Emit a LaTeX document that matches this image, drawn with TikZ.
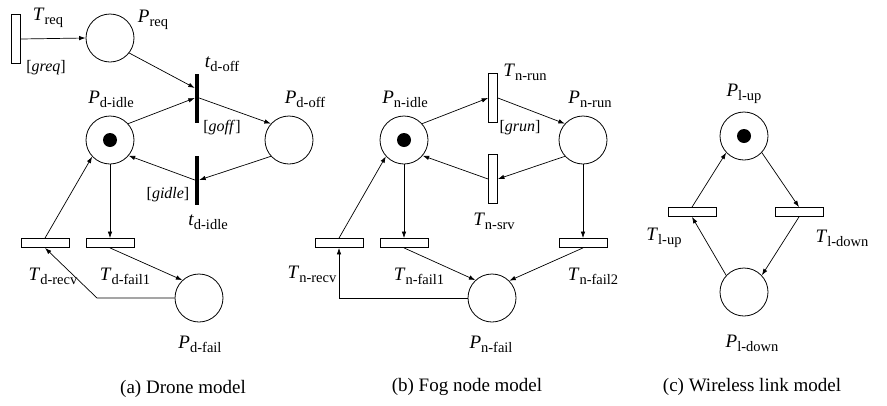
\documentclass[tikz,border=0pt]{standalone}
\usepackage{fontspec}
\setmainfont{Liberation Serif}
\usetikzlibrary{arrows.meta,calc}
\newcommand\lb[2]{{\fontsize{19}{20}\selectfont\textit{#1}}\raisebox{-4pt}{\fontsize{14.5}{15}\selectfont #2}}
\newcommand\gd[1]{{\fontsize{16}{17}\selectfont[\textit{#1}]}}
\tikzset{
  place/.style={circle,draw,line width=0.8pt,minimum size=48pt,inner sep=0pt},
  token/.style={circle,fill=black,minimum size=14pt,inner sep=0pt},
  transv/.style={rectangle,draw,line width=0.8pt,minimum width=9pt,minimum height=49pt,inner sep=0pt},
  transh/.style={rectangle,draw,line width=0.8pt,minimum width=48pt,minimum height=9pt,inner sep=0pt},
  tbar/.style={rectangle,fill=black,minimum width=4pt,minimum height=49pt,inner sep=0pt},
  lbl/.style={inner sep=0pt},
  arc/.style={line width=0.7pt,-{Latex[length=6.5pt,width=4.5pt]}},
  captxt/.style={inner sep=0pt,font=\fontsize{19}{20}\selectfont}
}
\begin{document}
\begin{tikzpicture}[x=1pt,y=-1pt]
\useasboundingbox (0,0) rectangle (887,405);
% ---------- (a) Drone model ----------
\node[transv] (Treq) at (16,39) {};
\node[place] (Preq) at (110,38) {};
\node[tbar] (toff) at (197,98) {};
\node[place] (Pdidle) at (110,140) {};
\node[token] (k1) at (110,140) {};
\node[place] (Pdoff) at (289,140) {};
\node[tbar] (tidle) at (197,180) {};
\node[transh] (Tdrecv) at (45,243) {};
\node[transh] (Tdfail) at (110,243) {};
\node[place] (Pdfail) at (199,298) {};
\coordinate (cdr) at (97,298);

\node[lbl] (lTreq) at (48,18) {\lb{T}{req}};
\node[lbl] (lgreq) at (46,68) {\gd{greq}};
\node[lbl] (lPreq) at (153,20) {\lb{P}{req}};
\node[lbl] (ltoff) at (222,64) {\lb{t}{d-off}};
\node[lbl] (lPdidle) at (111,99) {\lb{P}{d-idle}};
\node[lbl] (lPdoff) at (305,99) {\lb{P}{d-off}};
\node[lbl] (lgoff) at (222,128) {\gd{goff}};
\node[lbl] (lgidle) at (168,195) {\gd{gidle}};
\node[lbl] (ltidle) at (208,222) {\lb{t}{d-idle}};
\node[lbl] (lTdrecv) at (53,276) {\lb{T}{d-recv}};
\node[lbl] (lTdfail) at (125,276) {\lb{T}{d-fail1}};
\node[lbl] (lPdfail) at (200,344) {\lb{P}{d-fail}};
\node[captxt] (capa) at (183,389) {(a) Drone model};

\draw[arc] (Treq.east) -- (Preq.west);
\draw[arc] (Preq.-38) -- ([yshift=10pt]toff.west);
\draw[arc] (Pdidle.42) -- (toff.west);
\draw[arc] (toff.east) -- (Pdoff.138);
\draw[arc] (Pdoff.222) -- (tidle.east);
\draw[arc] (tidle.west) -- (Pdidle.-40);
\draw[arc] (Pdidle.south) -- (Tdfail.north);
\draw[arc] (Tdrecv.north) -- (Pdidle.223);
\draw[arc] (Tdfail.south) -- (Pdfail.133);
\draw[arc] (Pdfail.west) -- (cdr) -- (Tdrecv.south);

% ---------- (b) Fog node model ----------
\node[place] (Pnidle) at (404,140) {};
\node[token] (k2) at (404,140) {};
\node[transv] (Tnrun) at (493,98) {};
\node[place] (Pnrun) at (583,140) {};
\node[transv] (Tnsrv) at (493,179) {};
\node[transh] (Tnrecv) at (339,243) {};
\node[transh] (Tnfail1) at (404,243) {};
\node[transh] (Tnfail2) at (583,243) {};
\node[place] (Pnfail) at (492,298) {};

\node[lbl] (lPnidle) at (405,99) {\lb{P}{n-idle}};
\node[lbl] (lTnrun) at (525,72) {\lb{T}{n-run}};
\node[lbl] (lgrun) at (520,128) {\gd{grun}};
\node[lbl] (lPnrun) at (590,99) {\lb{P}{n-run}};
\node[lbl] (lTnsrv) at (494,221) {\lb{T}{n-srv}};
\node[lbl] (lTnrecv) at (312,274) {\lb{T}{n-recv}};
\node[lbl] (lTnfail1) at (419,276) {\lb{T}{n-fail1}};
\node[lbl] (lTnfail2) at (593,276) {\lb{T}{n-fail2}};
\node[lbl] (lPnfail) at (491,344) {\lb{P}{n-fail}};
\node[captxt] (capb) at (467,387) {(b) Fog node model};

\draw[arc] (Pnidle.42) -- (Tnrun.west);
\draw[arc] (Tnrun.east) -- (Pnrun.138);
\draw[arc] (Pnrun.222) -- (Tnsrv.east);
\draw[arc] (Tnsrv.west) -- (Pnidle.-40);
\draw[arc] (Pnidle.south) -- (Tnfail1.north);
\draw[arc] (Pnrun.south) -- (Tnfail2.north);
\draw[arc] (Tnfail1.south) -- (Pnfail.133);
\draw[arc] (Tnfail2.south) -- (Pnfail.45);
\draw[arc] (Tnrecv.north) -- (Pnidle.222);
\draw[arc] (Pnfail.west) -| (Tnrecv.south);

% ---------- (c) Wireless link model ----------
\node[place] (Plup) at (744,136) {};
\node[token] (k3) at (744,136) {};
\node[transh] (Tlup) at (692,212) {};
\node[transh] (Tldown) at (799,212) {};
\node[place] (Pldown) at (744,292) {};

\node[lbl] (lPlup) at (744,94) {\lb{P}{l-up}};
\node[lbl] (lTlup) at (664,238) {\lb{T}{l-up}};
\node[lbl] (lTldown) at (842,238) {\lb{T}{l-down}};
\node[lbl] (lPldown) at (752,343) {\lb{P}{l-down}};
\node[captxt] (capc) at (752,387) {(c) Wireless link model};

\draw[arc] (Plup.-43) -- (Tldown.north);
\draw[arc] (Tldown.south) -- (Pldown.43);
\draw[arc] (Pldown.137) -- (Tlup.south);
\draw[arc] (Tlup.north) -- (Plup.223);
\end{tikzpicture}
\end{document}
